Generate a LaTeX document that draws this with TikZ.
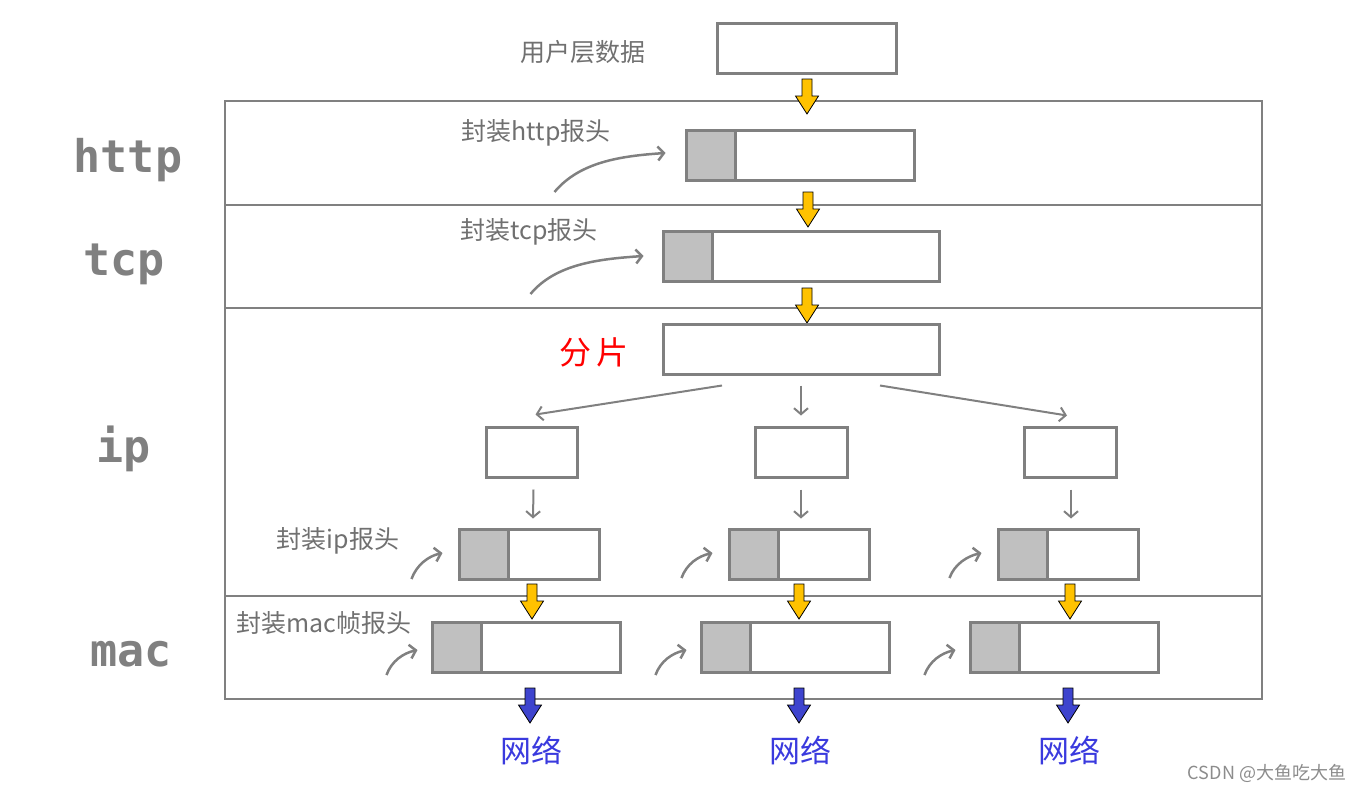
\documentclass[tikz,border=0pt]{standalone}
\usepackage{fontspec}
\newfontfamily\cjkfont{Noto Sans CJK SC}
\newfontfamily\monofont{DejaVu Sans Mono}
\usetikzlibrary{arrows.meta,calc}

\definecolor{linegray}{RGB}{128,128,128}
\definecolor{notegray}{RGB}{112,112,112}
\definecolor{hdrgray}{RGB}{192,192,192}
\definecolor{arrowyellow}{RGB}{255,194,0}
\definecolor{arrowblue}{RGB}{62,68,206}
\definecolor{netblue}{RGB}{58,58,222}

\tikzset{
  layer/.style={font=\monofont\bfseries\fontsize{45}{50}\selectfont, text=linegray, anchor=base},
  note/.style={font=\cjkfont\fontsize{25}{28}\selectfont, text=notegray, inner sep=0pt},
  databox/.style={draw=linegray, line width=3pt, minimum height=50pt, inner sep=0pt},
  hdrbox/.style={databox, fill=hdrgray, minimum width=49pt, anchor=west},
  hint/.style={draw=linegray, line width=2.5pt, -{Straight Barb[length=6pt,width=14pt]}},
  split/.style={draw=linegray, line width=2pt, -{Straight Barb[length=6pt,width=14pt]}},
  net/.style={font=\cjkfont\fontsize{31}{36}\selectfont, text=netblue},
  flow/.style={draw=black, line width=0.8pt, line join=miter, fill=#1}
}

% block arrow pointing down, #1 = top centre, #2 = fill colour
\newcommand\flowarrow[2]{%
  \draw[flow=#2] #1 ++(-5,0) -- ++(0,17) -- ++(-6.5,0) -- ++(11.5,18) -- ++(11.5,-18) -- ++(-6.5,0) -- ++(0,-17) -- cycle;}

\begin{document}
\begin{tikzpicture}[x=1pt,y=-1pt]
  \useasboundingbox (0,0) rectangle (1369,793);

  % layers
  \draw[linegray, line width=2.5pt] (225,101) rectangle (1262,699);
  \draw[linegray, line width=2.5pt] (225,205) -- (1262,205);
  \draw[linegray, line width=2.5pt] (225,308) -- (1262,308);
  \draw[linegray, line width=2.5pt] (225,596) -- (1262,596);

  \node[layer] (lhttp) at (128,172) {http};
  \node[layer] (ltcp) at (124,275) {tcp};
  \node[layer] (lip) at (124,462) {ip};
  \node[layer] (lmac) at (131,666) {mac};

  % user data
  \node[note] (tuser) at (583,52) {用户层数据};
  \node[databox, minimum width=179pt] (userbox) at (806.5,48) {};
  \flowarrow{(807,79)}{arrowyellow}

  % http
  \node[note] (thttp) at (536,133) {封装http报头};
  \node[databox, minimum width=228pt] (httpbox) at (800,155) {};
  \node[hdrbox] (httphdr) at (httpbox.west) {};
  \draw[hint] ($(httpbox.west)+(-130,37)$) .. controls +(25,-30) and +(-45,3) .. ($(httpbox.west)+(-19,-2)$);
  \flowarrow{(808,192)}{arrowyellow}

  % tcp
  \node[note] (ttcp) at (529,232) {封装tcp报头};
  \node[databox, minimum width=276pt] (tcpbox) at (801,256) {};
  \node[hdrbox] (tcphdr) at (tcpbox.west) {};
  \draw[hint] ($(tcpbox.west)+(-131,38)$) .. controls +(25,-30) and +(-45,3) .. ($(tcpbox.west)+(-18,0)$);
  \flowarrow{(807,288)}{arrowyellow}

  % ip
  \node[font=\cjkfont\fontsize{32}{36}\selectfont, text=red] (tfrag) at (594,352) {分\,片};
  \node[databox, minimum width=276pt] (fragbox) at (801,349) {};

  \node[databox, minimum width=91pt] (partA) at (531.5,452) {};
  \node[databox, minimum width=92pt] (partB) at (801,452) {};
  \node[databox, minimum width=92pt] (partC) at (1070,452) {};

  \draw[split] ($(fragbox.south)+(-79,10)$) -- ($(partA.north)+(4,-11)$);
  \draw[split] ($(fragbox.south)+(0,10)$) -- ($(partB.north)+(0,-10)$);
  \draw[split] ($(fragbox.south)+(79,10)$) -- ($(partC.north)+(-3,-10)$);

  \node[note] (tip) at (338,541) {封装ip报头};
  \node[databox, minimum width=140pt] (ipA) at (529,554) {};
  \node[databox, minimum width=140pt] (ipB) at (799,554) {};
  \node[databox, minimum width=140pt] (ipC) at (1068,554) {};
  \node[hdrbox] (ipAhdr) at (ipA.west) {};
  \node[hdrbox] (ipBhdr) at (ipB.west) {};
  \node[hdrbox] (ipChdr) at (ipC.west) {};

  \draw[split] ($(partA.south)+(2,11)$) -- ($(ipA.north)+(4,-9)$);
  \draw[split] ($(partB.south)+(0,11)$) -- ($(ipB.north)+(2,-9)$);
  \draw[split] ($(partC.south)+(1,11)$) -- ($(ipC.north)+(3,-9)$);

  \draw[hint] ($(ipA.west)+(-46,25)$) .. controls +(5,-14) and +(-14,3) .. ($(ipA.west)+(-15,-1)$);
  \draw[hint] ($(ipB.west)+(-46,24)$) .. controls +(5,-14) and +(-14,3) .. ($(ipB.west)+(-15,-1)$);
  \draw[hint] ($(ipC.west)+(-47,24)$) .. controls +(5,-14) and +(-14,3) .. ($(ipC.west)+(-15,-1)$);

  \flowarrow{(532,584)}{arrowyellow}
  \flowarrow{(799,584)}{arrowyellow}
  \flowarrow{(1070,584)}{arrowyellow}

  % mac
  \node[note] (tmac) at (324,623) {封装mac帧报头};
  \node[databox, minimum width=188pt] (macA) at (526,647) {};
  \node[databox, minimum width=188pt] (macB) at (795,647) {};
  \node[databox, minimum width=188pt] (macC) at (1064,647) {};
  \node[hdrbox] (macAhdr) at (macA.west) {};
  \node[hdrbox] (macBhdr) at (macB.west) {};
  \node[hdrbox] (macChdr) at (macC.west) {};

  \draw[hint] ($(macA.west)+(-44,28)$) .. controls +(5,-14) and +(-14,3) .. ($(macA.west)+(-13,3)$);
  \draw[hint] ($(macB.west)+(-44,28)$) .. controls +(5,-14) and +(-14,3) .. ($(macB.west)+(-13,3)$);
  \draw[hint] ($(macC.west)+(-44,28)$) .. controls +(5,-14) and +(-14,3) .. ($(macC.west)+(-13,3)$);

  \flowarrow{(530,688)}{arrowblue}
  \flowarrow{(799,688)}{arrowblue}
  \flowarrow{(1068,688)}{arrowblue}

  % network
  \node[net] (netA) at (531,750) {网络};
  \node[net] (netB) at (800,750) {网络};
  \node[net] (netC) at (1069,750) {网络};

  \node[font=\cjkfont\fontsize{18}{20}\selectfont, text=black!45] (mark) at (1267,773) {CSDN @大鱼吃大鱼};
\end{tikzpicture}
\end{document}
